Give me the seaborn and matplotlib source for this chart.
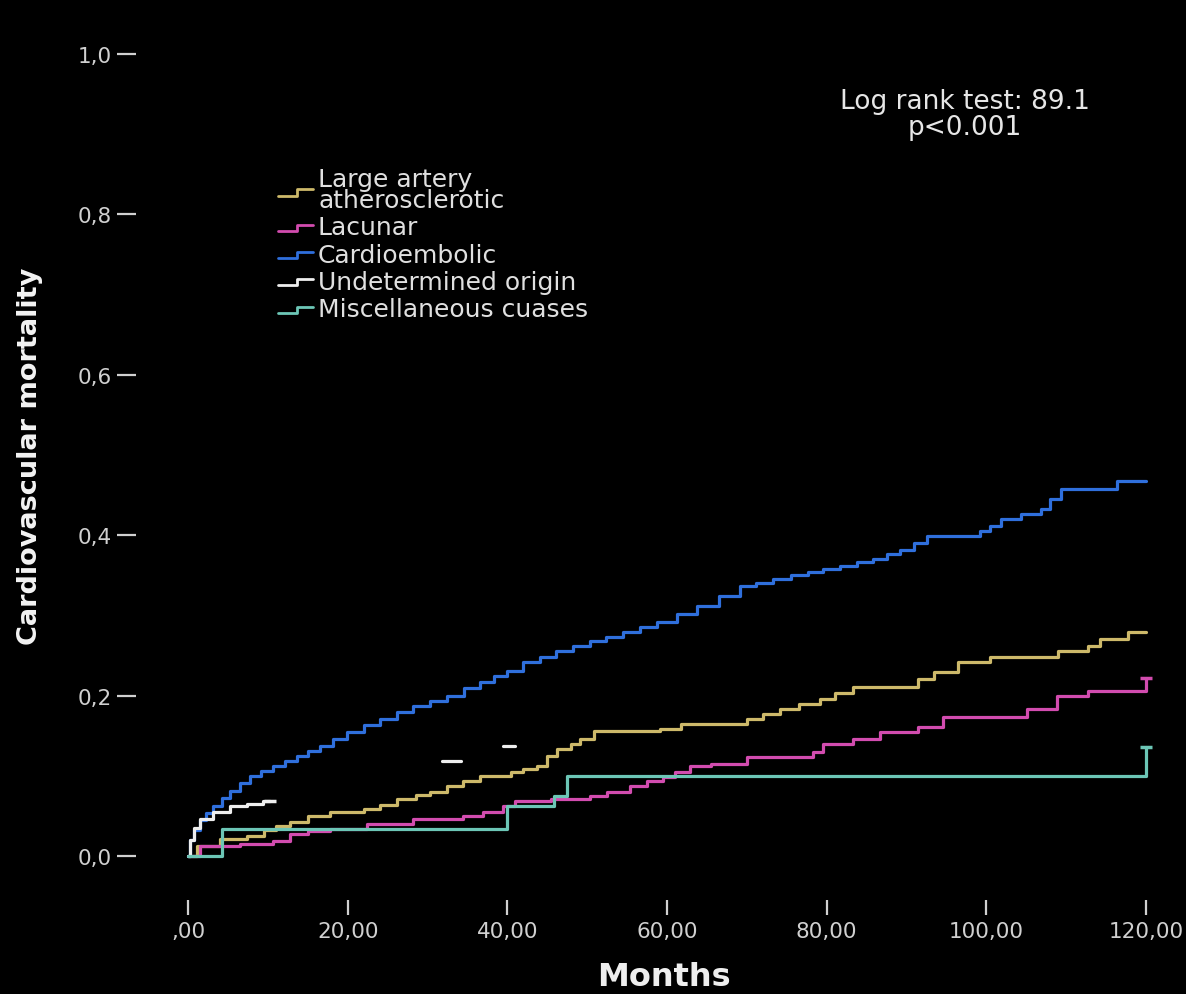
import matplotlib
matplotlib.use("Agg")
import matplotlib.pyplot as plt
import numpy as np
import pandas as pd
import seaborn as sns
from matplotlib.legend_handler import HandlerBase
from matplotlib.lines import Line2D

# ---- cumulative cardiovascular mortality by stroke subtype (step points: month, value) ----
large_months = [0, 1.1, 4.0, 7.4, 9.5, 11.0, 12.8, 15.0, 17.8, 22.0, 24.0, 26.2, 28.5, 30.3,
                32.5, 34.5, 36.6, 40.4, 42.0, 43.7, 45.0, 46.2, 48.0, 49.1, 50.8, 59.1, 61.7,
                70.0, 72.0, 74.2, 76.5, 79.2, 81.0, 83.3, 91.4, 93.5, 96.4, 100.5, 109.0,
                112.7, 114.3, 117.7, 120.0]
large_risk = [0, 0.012, 0.021, 0.025, 0.032, 0.038, 0.042, 0.050, 0.055, 0.059, 0.064, 0.071,
              0.076, 0.080, 0.087, 0.094, 0.100, 0.105, 0.108, 0.112, 0.125, 0.133, 0.140,
              0.146, 0.156, 0.158, 0.165, 0.171, 0.177, 0.183, 0.190, 0.196, 0.203, 0.211,
              0.221, 0.230, 0.242, 0.248, 0.255, 0.262, 0.271, 0.279, 0.279]

lacunar_months = [0, 1.5, 6.5, 10.7, 12.8, 15.0, 17.8, 22.4, 28.2, 34.5, 37.0, 39.5, 41.0,
                  45.5, 50.4, 52.5, 55.4, 57.5, 59.5, 61.0, 62.9, 65.5, 70.0, 78.3, 79.6,
                  83.3, 86.7, 91.4, 94.6, 105.1, 108.9, 112.7, 120.0]
lacunar_risk = [0, 0.012, 0.015, 0.019, 0.027, 0.031, 0.034, 0.040, 0.046, 0.050, 0.055,
                0.062, 0.069, 0.071, 0.075, 0.080, 0.087, 0.093, 0.098, 0.105, 0.112, 0.115,
                0.123, 0.130, 0.140, 0.146, 0.155, 0.161, 0.173, 0.183, 0.200, 0.206, 0.222]

cardio_months = [0, 0.3, 0.8, 1.5, 2.2, 3.1, 4.2, 5.3, 6.5, 7.8, 9.2, 10.7, 12.2, 13.7, 15.0,
                 16.5, 18.2, 19.9, 22.0, 24.1, 26.2, 28.2, 30.3, 32.5, 34.6, 36.6, 38.3, 40.0,
                 42.0, 44.1, 46.1, 48.2, 50.3, 52.4, 54.5, 56.6, 58.8, 61.3, 63.8, 66.5, 69.2,
                 71.2, 73.3, 75.5, 77.6, 79.6, 81.7, 83.8, 85.8, 87.6, 89.2, 91.0, 92.6, 99.2,
                 100.5, 101.8, 104.3, 106.8, 108.0, 109.3, 116.4, 120.0]
cardio_risk = [0, 0.020, 0.032, 0.045, 0.054, 0.062, 0.072, 0.081, 0.091, 0.100, 0.106, 0.112,
               0.119, 0.125, 0.131, 0.137, 0.146, 0.155, 0.163, 0.171, 0.179, 0.187, 0.193,
               0.200, 0.209, 0.217, 0.224, 0.231, 0.242, 0.248, 0.255, 0.262, 0.268, 0.273,
               0.279, 0.286, 0.292, 0.302, 0.312, 0.324, 0.337, 0.341, 0.345, 0.350, 0.354,
               0.358, 0.362, 0.366, 0.370, 0.376, 0.381, 0.390, 0.399, 0.405, 0.412, 0.420,
               0.427, 0.433, 0.445, 0.458, 0.468, 0.468]

undet_months = [0, 0.3, 0.7, 1.5, 3.1, 5.3, 7.4, 9.4, 10.3]
undet_risk = [0, 0.020, 0.035, 0.046, 0.055, 0.062, 0.065, 0.069, 0.069]
undet_piece1_months = [31.8, 34.2]
undet_piece1_risk = [0.118, 0.118]
undet_piece2_months = [39.5, 41.0]
undet_piece2_risk = [0.137, 0.137]

misc_months = [0, 4.2, 40.0, 45.8, 47.5, 120.0]
misc_risk = [0, 0.034, 0.062, 0.075, 0.100, 0.136]

groups = ["Large artery\natherosclerotic", "Lacunar", "Cardioembolic",
          "Undetermined origin", "Miscellaneous cuases"]
colors = ["#cdb96a", "#d24caf", "#2f6fdc", "#eeeeee", "#6cc6b6"]

x_ticks = [0, 20, 40, 60, 80, 100, 120]
x_tick_labels = [",00", "20,00", "40,00", "60,00", "80,00", "100,00", "120,00"]
y_ticks = [0.0, 0.2, 0.4, 0.6, 0.8, 1.0]
y_tick_labels = ["0,0", "0,2", "0,4", "0,6", "0,8", "1,0"]

log_rank_text = "Log rank test: 89.1\np<0.001"

# ---- long table of curve pieces ----
pieces = [
    (groups[0], 0, large_months, large_risk),
    (groups[1], 1, lacunar_months, lacunar_risk),
    (groups[2], 2, cardio_months, cardio_risk),
    (groups[3], 3, undet_months, undet_risk),
    (groups[3], 4, undet_piece1_months, undet_piece1_risk),
    (groups[3], 5, undet_piece2_months, undet_piece2_risk),
    (groups[4], 6, misc_months, misc_risk),
]
frames = [pd.DataFrame({"group": g, "seg": s, "month": m, "risk": r}) for g, s, m, r in pieces]
curves = pd.concat(frames, ignore_index=True)

# censoring marks at the end of some curves
censor = pd.DataFrame({
    "group": [groups[1], groups[3], groups[4]],
    "month": [lacunar_months[-1], undet_months[-1], misc_months[-1]],
    "risk": [lacunar_risk[-1], undet_risk[-1], misc_risk[-1]],
})

palette = dict(zip(groups, colors))

sns.set_style("dark", {"axes.facecolor": "black", "figure.facecolor": "black"})
plt.rcParams["font.family"] = ["DejaVu Sans"]

fig = plt.figure(figsize=(11.86, 9.95), dpi=100, facecolor="black")
W, H = 1186, 995
ax = fig.add_axes([188 / W, (H - 857) / H, 958 / W, 802 / H])
ax.set_facecolor("black")

sns.lineplot(data=curves, x="month", y="risk", hue="group", units="seg", estimator=None,
             sort=False, hue_order=groups, palette=palette, drawstyle="steps-post",
             linewidth=2.3, legend=False, ax=ax, clip_on=False)
sns.scatterplot(data=censor, x="month", y="risk", hue="group", hue_order=groups,
                palette=palette, marker="_", s=70, linewidth=2.5, legend=False, ax=ax,
                clip_on=False)

ax.set_xlim(0, 120)
ax.set_ylim(0, 1)
ax.grid(False)
for side in ["top", "right"]:
    ax.spines[side].set_visible(False)
ax.spines["left"].set_position(("outward", 37.5))
ax.spines["bottom"].set_position(("outward", 32))
ax.spines["left"].set_visible(False)
ax.spines["bottom"].set_visible(False)

ax.set_xticks(x_ticks)
ax.set_xticklabels(x_tick_labels)
ax.set_yticks(y_ticks)
ax.set_yticklabels(y_tick_labels)
ax.tick_params(axis="y", direction="out", length=14, width=1.6, color="#d0d0d0",
               pad=3.5, labelsize=15.5, labelcolor="#d0d0d0", left=True)
ax.tick_params(axis="x", direction="out", length=11, width=1.6, color="#d0d0d0",
               pad=4, labelsize=15.5, labelcolor="#d0d0d0", bottom=True)

ax.set_xlabel("Months", fontsize=23, fontweight="bold", color="#eeeeee", va="center")
ax.xaxis.set_label_coords((664 - 188) / 958, (857 - 978) / 802)
ax.set_ylabel("Cardiovascular mortality", fontsize=19.5, fontweight="bold", color="#f4f4f4",
              va="center")
ax.yaxis.set_label_coords((30 - 188) / 958, (857 - 456) / 802)

ax.text((965 - 188) / 958, (857 - 115) / 802, log_rank_text, transform=ax.transAxes,
        ha="center", va="center", fontsize=19, color="#e6e6e6", linespacing=1.0,
        multialignment="center")


class StepHandler(HandlerBase):
    def create_artists(self, legend, orig_handle, xdescent, ydescent, width, height,
                       fontsize, trans):
        x0, y0 = -xdescent, -ydescent
        xs = [x0, x0 + 0.55 * width, x0 + 0.55 * width, x0 + width]
        lo, hi = y0 + 0.2 * height, y0 + 0.55 * height
        line = Line2D(xs, [lo, lo, hi, hi], color=orig_handle.get_color(),
                      linewidth=orig_handle.get_linewidth(), transform=trans)
        return [line]


handles = [Line2D([], [], color=c, linewidth=2.0) for c in colors]
leg = ax.legend(handles, groups, handler_map={Line2D: StepHandler()}, loc="upper left",
                bbox_to_anchor=(278 / W, 1 - 168 / H), bbox_transform=fig.transFigure,
                frameon=False, fontsize=18, handlelength=1.4, handletextpad=0.2,
                labelspacing=0.13, borderpad=0, borderaxespad=0)
for t in leg.get_texts():
    t.set_color("#e0e0e0")
    t.set_linespacing(0.85)

fig.savefig("out.png", dpi=100, facecolor="black")
